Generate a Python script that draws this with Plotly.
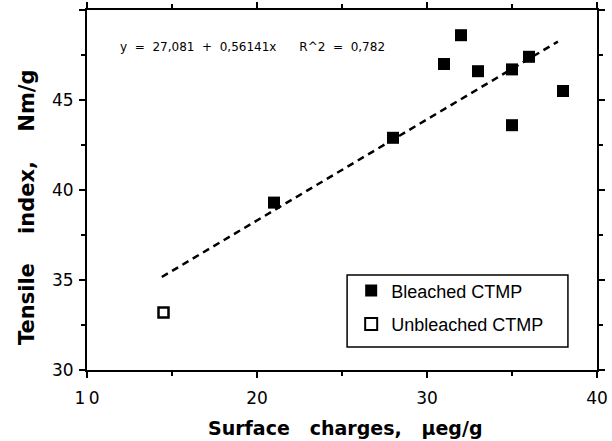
import plotly.graph_objects as go

# Data
bleached_x = [21, 28, 31, 32, 33, 35, 35, 36, 38]
bleached_y = [39.3, 42.9, 47.0, 48.6, 46.6, 46.7, 43.6, 47.4, 45.5]
unbleached_x = [14.5]
unbleached_y = [33.2]
fit_intercept = 27.081
fit_slope = 0.56141
fit_r2 = 0.782
fit_x = [14.4, 37.7]
fit_y = [fit_intercept + fit_slope * v for v in fit_x]

x_range = [10, 40]
y_range = [30, 50]
x_ticks = [10, 20, 30, 40]
x_tick_text = ["1\u2009" + "0", "20", "30", "40"]
x_minor = [15, 25, 35]
y_ticks = [30, 35, 40, 45, 50]
y_minor = [32.5, 37.5, 42.5, 47.5]

NB = "\u00a0"
SANS = "Liberation Sans, Arial, Helvetica, sans-serif"
WIDE = "DejaVu Sans, Verdana, sans-serif"
PLOT_W = 612 - 87 - 15


def y_frac(v):
    return (v - y_range[0]) / (y_range[1] - y_range[0])


fig = go.Figure()
fig.add_trace(go.Scatter(x=fit_x, y=fit_y, mode="lines", xaxis="x2", yaxis="y2",
                         line=dict(color="black", width=2.5, dash="7px,5px"),
                         showlegend=False, hoverinfo="skip"))
fig.add_trace(go.Scatter(x=bleached_x, y=bleached_y, mode="markers",
                         name="Bleached" + NB + "CTMP", legendgroup="a",
                         marker=dict(symbol="square", size=12, color="black",
                                     line=dict(width=0))))
fig.add_trace(go.Scatter(x=unbleached_x, y=unbleached_y, mode="markers",
                         name="Unbleached" + NB + "CTMP", legendgroup="b",
                         marker=dict(symbol="square-open", size=10, color="black",
                                     line=dict(width=2.5))))

eq_text = ("y" + NB*2 + "=" + NB*2 + "27,081" + NB*2 + "+" + NB*2 + "0,56141x"
           + NB*6 + "R^2" + NB*2 + "=" + NB*2 + f"{fit_r2}".replace(".", ","))
fig.add_annotation(x=0.061, y=0.897, xref="paper", yref="paper", xanchor="left",
                   yanchor="middle", text=eq_text, showarrow=False,
                   font=dict(family=WIDE, size=12, color="black"))

fig.add_annotation(x=0.506, y=0, xref="paper", yref="paper", xanchor="center",
                   yanchor="middle", yshift=-58, showarrow=False,
                   text="<b>Surface" + NB*3 + "charges," + NB*3 + "\u03bceg/g</b>",
                   font=dict(family=WIDE, size=19, color="black"))
fig.add_annotation(x=0, y=0.45, xref="paper", yref="paper", xanchor="center",
                   yanchor="middle", xshift=-60, textangle=-90, showarrow=False,
                   text="<b>Tensile" + NB*4 + "index," + NB*4 + "Nm/g</b>",
                   font=dict(family=WIDE, size=21, color="black"))

# legend frame
fig.add_shape(type="rect", xref="paper", yref="paper",
              x0=0.51, x1=0.943, y0=0.064, y1=0.264,
              line=dict(color="black", width=1.5), fillcolor="white", layer="above")

# left-side tick marks at the y tick values (paper refs so they are not clipped)
for v in y_ticks:
    fig.add_shape(type="line", xref="paper", yref="paper", x0=-6 / PLOT_W, x1=0,
                  y0=y_frac(v), y1=y_frac(v), line=dict(color="black", width=2))
for v in y_minor:
    fig.add_shape(type="line", xref="paper", yref="paper", x0=-4 / PLOT_W, x1=0,
                  y0=y_frac(v), y1=y_frac(v), line=dict(color="black", width=2))

axis_common = dict(showgrid=False, zeroline=False, showline=True,
                   linecolor="black", linewidth=2, ticks="outside",
                   tickwidth=2, tickcolor="black", automargin=False)

fig.update_layout(
    width=612, height=441,
    margin=dict(l=87, r=15, t=10, b=71, autoexpand=False),
    paper_bgcolor="white", plot_bgcolor="white",
    font=dict(family=SANS, color="black"),
    showlegend=True,
    legend=dict(x=0.518, y=0.174, xanchor="left", yanchor="middle",
                borderwidth=0, bgcolor="rgba(0,0,0,0)",
                font=dict(family=SANS, size=18, color="black"),
                itemsizing="constant", tracegroupgap=7),
    xaxis=dict(range=x_range, tickmode="array", tickvals=x_ticks,
               ticktext=x_tick_text, mirror=True, ticklen=6,
               ticklabelstandoff=6,
               tickfont=dict(family=WIDE, size=17, color="black"),
               **axis_common),
    xaxis2=dict(range=x_range, overlaying="x", side="top", tickmode="array",
                tickvals=x_ticks, showticklabels=False, mirror="ticks",
                ticklen=6,
                minor=dict(tickmode="array", tickvals=x_minor, ticks="outside",
                           ticklen=4, tickwidth=2, tickcolor="black",
                           showgrid=False),
                **axis_common),
    yaxis=dict(range=y_range, tickmode="array", tickvals=y_ticks,
               mirror="ticks", ticklen=6, ticklabelstandoff=2,
               minor=dict(tickmode="array", tickvals=y_minor, ticks="outside",
                          ticklen=4, tickwidth=2, tickcolor="black",
                          showgrid=False),
               tickfont=dict(family=WIDE, size=17, color="black"),
               **axis_common),
    yaxis2=dict(range=y_range, overlaying="y", side="right", tickmode="array",
                tickvals=y_ticks, showticklabels=False, mirror="ticks",
                ticklen=6,
                minor=dict(tickmode="array", tickvals=y_minor, ticks="outside",
                           ticklen=4, tickwidth=2, tickcolor="black",
                           showgrid=False),
                **axis_common),
)

fig.write_html("out.html", config={"displayModeBar": False},
               post_script="document.body.style.margin='0';document.body.style.padding='0';")
